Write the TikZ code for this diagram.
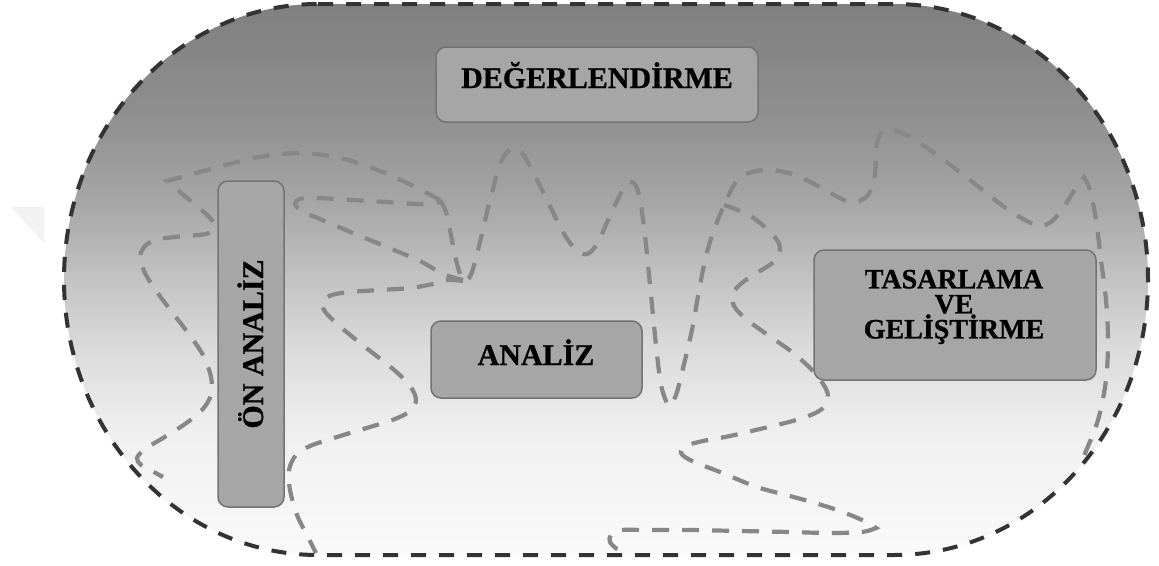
\documentclass[tikz,border=0pt]{standalone}
\usepackage{fontspec}
\setmainfont{Liberation Serif}[BoldFeatures={FakeBold=0.8}]
% vertical fade of the big rounded field: dark grey on top, almost white below
\pgfdeclareverticalshading{stadiumshade}{100bp}{%
  color(0bp)=(black!2); color(25bp)=(black!2); color(36bp)=(black!6);
  color(43.5bp)=(black!14); color(49bp)=(black!22); color(57bp)=(black!35);
  color(65bp)=(black!44); color(75bp)=(black!50); color(100bp)=(black!50)}
\begin{document}
\begin{tikzpicture}[x=1pt,y=-1pt,
  outline/.style={draw=black!80, line width=4pt, dash pattern=on 15pt off 13pt},
  trail/.style={draw=black!47, line width=4.2pt, dash pattern=on 17pt off 13pt},
  phase/.style={draw=black!55, line width=1.5pt, fill=black!35, rounded corners=10pt, inner sep=0pt},
  caption/.style={font=\fontsize{30}{24}\selectfont\bfseries, text=black, inner sep=0pt}]

\fill[white] (0,0) rectangle (1159,565);
\useasboundingbox (0,0) rectangle (1159,565);

% faint corner mark at the far left
\fill[black!5] (11,207) -- (44,207) -- (44,243) -- cycle;

% the shaded field (its dashed rim is drawn again on top of the trails)
\path[shade, shading=stadiumshade]
  (318,4) -- (894,4) .. controls (1034.3,4) and (1148,127.3) .. (1148,279.5)
  .. controls (1148,431.7) and (1034.3,555) .. (894,555) -- (318,555)
  .. controls (177.7,555) and (64,431.7) .. (64,279.5)
  .. controls (64,127.3) and (177.7,4) .. (318,4) -- cycle;

% wandering dashed trails
\draw[trail] plot[smooth, tension=0.55] coordinates {(440,200) (425,192) (405,182) (380,171) (355,162) (330,156) (300,153) (265,156) (233,163) (200,172) (167,181)}
  -- plot[smooth, tension=0.55] coordinates {(167,181) (180,192) (198,207) (211,219) (214,228) (206,234) (185,236) (160,239) (146,245) (140,257) (145,273) (157,292) (172,312) (188,333) (203,355) (211,377) (211,395) (202,410) (185,424) (163,438) (145,449) (137,458) (141,465) (152,471) (163,477)};

\draw[trail] plot[smooth, tension=0.55] coordinates {(463,280) (443,274) (420,261) (387,247) (353,233) (320,219) (303,212) (295,204) (300,199) (315,198) (353,200) (387,202) (420,204) (440,202)};

\draw[trail] plot[smooth, tension=0.55] coordinates {(463,281) (448,280) (433,284) (410,288) (380,290) (350,292) (332,295) (323,301) (324,310) (335,322) (360,343) (393,369) (410,386) (416,400) (410,411) (395,419) (370,427) (337,437) (310,446) (296,455) (289,470) (290,490) (297,515) (307,535) (316,553)};

\draw[trail] plot[smooth, tension=0.55] coordinates {(440,200) (446,212) (451,235) (456,260) (461,276) (466,281) (472,272) (480,242) (490,200) (500,165) (507,152) (514,148) (522,153) (532,170) (547,200) (563,232) (576,250) (587,254) (597,244) (609,218) (621,193) (629,182) (636,186) (641,205) (646,245) (651,295) (656,345) (661,385) (668,406)}
  -- plot[smooth, tension=0.55] coordinates {(668,406) (676,395) (685,360) (693,325) (700,285) (709,245) (724,205) (737,181) (752,172) (772,170) (795,175) (820,187) (842,199) (856,202) (868,195) (874,180) (876,160) (877,143) (882,132) (893,130) (910,137) (937,155) (970,180) (1003,206) (1025,220) (1040,226) (1052,221) (1063,208) (1074,191) (1084,177)}
  -- plot[smooth, tension=0.55] coordinates {(1084,177) (1090,190) (1096,220) (1101,260) (1106,300) (1108,340) (1106,380) (1098,420) (1083,458)};

\draw[trail] plot[smooth, tension=0.55] coordinates {(724,205) (747,214) (765,227) (777,240) (780,250) (775,261) (760,271) (743,282) (733,293) (734,306) (746,319) (765,333) (792,352) (812,370) (825,387) (828,399) (822,409) (806,417) (785,423) (760,429) (730,436) (703,441) (686,446) (681,453) (692,461) (720,472) (757,487) (790,496) (815,503) (840,511) (862,520) (876,528)}
  -- plot[smooth, tension=0.55] coordinates {(876,528) (862,532) (830,533) (790,532) (740,531) (690,530) (645,530) (622,530) (611,535) (610,542) (617,549) (628,554)};

% dashed rim of the field
\draw[outline]
  (318,4) -- (894,4) .. controls (1034.3,4) and (1148,127.3) .. (1148,279.5)
  .. controls (1148,431.7) and (1034.3,555) .. (894,555) -- (318,555)
  .. controls (177.7,555) and (64,431.7) .. (64,279.5)
  .. controls (64,127.3) and (177.7,4) .. (318,4) -- cycle;

% phase boxes
\node[phase, minimum width=322pt, minimum height=75pt] (deg) at (597,84.5) {};
\node[phase, minimum width=66pt, minimum height=326pt] (on) at (251,344) {};
\node[phase, minimum width=211pt, minimum height=77pt] (ana) at (536.5,359.5) {};
\node[phase, minimum width=282pt, minimum height=130pt] (tas) at (955,315) {};

% phase names
\node[caption, anchor=base] (deg-t) at (597,88) {DEĞERLENDİRME};
\node[caption, anchor=base, rotate=90] (on-t) at (263,344) {ÖN ANALİZ};
\node[caption, anchor=base] (ana-t) at (536,365) {ANALİZ};
\node[caption, font=\fontsize{28}{25}\selectfont\bfseries, align=center] (tas-t) at (954,307)
  {TASARLAMA\\VE\\GELİŞTİRME};
\end{tikzpicture}
\end{document}
